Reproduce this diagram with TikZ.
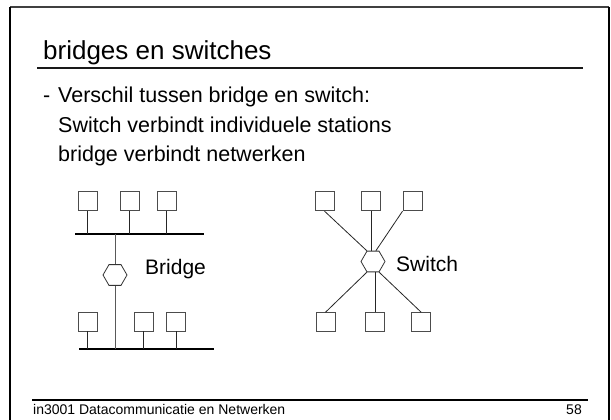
\documentclass[tikz,border=0pt]{standalone}
\usepackage{fontspec}
\setmainfont{Liberation Sans}
\usetikzlibrary{shapes.geometric}
\tikzset{
  station/.style={draw=black!70, line width=0.9pt, minimum size=19pt, inner sep=0pt},
  hexbox/.style={draw=black!80, line width=0.8pt, regular polygon, regular polygon sides=6,
                 minimum size=24pt, inner sep=0pt},
  bus/.style={line width=1.1pt, black},
  wire/.style={line width=0.8pt, black!85},
  lbl/.style={anchor=base west, inner sep=0pt, font=\fontsize{21}{25}\selectfont},
  body/.style={anchor=base west, inner sep=0pt, font=\fontsize{21.5}{26}\selectfont},
}
\begin{document}
\begin{tikzpicture}[x=1pt, y=-1pt]
\useasboundingbox (0,0) rectangle (611,420);
% slide frame
\draw[line width=2pt, black!75] (10,7) -- (609,7);
\draw[line width=2pt, black] (10,7) -- (10,421);
\draw[line width=2pt, black] (609,7) -- (609,421);

% title and rule
\node[anchor=base west, inner sep=0pt, font=\fontsize{26}{31}\selectfont] (title) at (43,59.5) {bridges en switches};
\draw[line width=1.5pt, black!90] (37,68) -- (583,68);

% bullet text
\node[body] (dash) at (43,102.5) {-};
\node[body] (l1) at (58,102.5) {Verschil tussen bridge en switch:};
\node[body] (l2) at (58,132) {Switch verbindt individuele stations};
\node[body] (l3) at (58,161.5) {bridge verbindt netwerken};

% ---- bridge: two bus segments joined by a bridge ----
\coordinate (tbL) at (75,234);
\coordinate (tbR) at (204,234);
\coordinate (bbL) at (79,349);
\coordinate (bbR) at (214,349);
\draw[bus] (tbL) -- (tbR);
\draw[bus] (bbL) -- (bbR);

\node[station] (t1) at (87.5,201) {};
\node[station] (t2) at (129.5,201) {};
\node[station] (t3) at (166.5,201) {};
\node[station] (b1) at (87.5,321.5) {};
\node[station] (b2) at (143.5,321.5) {};
\node[station] (b3) at (176,321.5) {};
\foreach \s in {t1,t2,t3} \draw[wire] (\s.south) -- (\s.south |- tbL);
\foreach \s in {b1,b2,b3} \draw[wire] (\s.south) -- (\s.south |- bbL);

\node[hexbox] (bridge) at (115,275) {};
\draw[wire, black!65] (bridge.north) -- (bridge.north |- tbL);
\draw[wire, black!65] (bridge.south) -- (bridge.south |- bbL);
\node[lbl] (blabel) at (145,274) {Bridge};

% ---- switch: star of stations ----
\node[hexbox] (switch) at (373,261.5) {};
\node[station] (s1) at (324.5,201.2) {};
\node[station] (s2) at (371,201.2) {};
\node[station] (s3) at (412.5,201.2) {};
\node[station] (s4) at (325.5,322.2) {};
\node[station] (s5) at (375.3,322.2) {};
\node[station] (s6) at (421.2,322.2) {};
\draw[wire] (s1.south) -- (switch.120);
\draw[wire] (s2.south) -- (s2.south |- switch.north);
\draw[wire] (s3.south west) -- (switch.75);
\draw[wire] (s4.north) -- (switch.240);
\draw[wire] (s5.north) -- (s5.north |- switch.south);
\draw[wire] (s6.north) -- (switch.300);
\node[lbl] (slabel) at (396,271) {Switch};

% footer
\draw[line width=1.1pt, black] (32,400) -- (588,400);
\node[anchor=base west, inner sep=0pt, font=\fontsize{14}{17}\selectfont] (foot) at (33,414.5) {in3001 Datacommunicatie en Netwerken};
\node[anchor=base east, inner sep=0pt, font=\fontsize{14}{17}\selectfont] (page) at (582,414.5) {58};
\end{tikzpicture}
\end{document}
